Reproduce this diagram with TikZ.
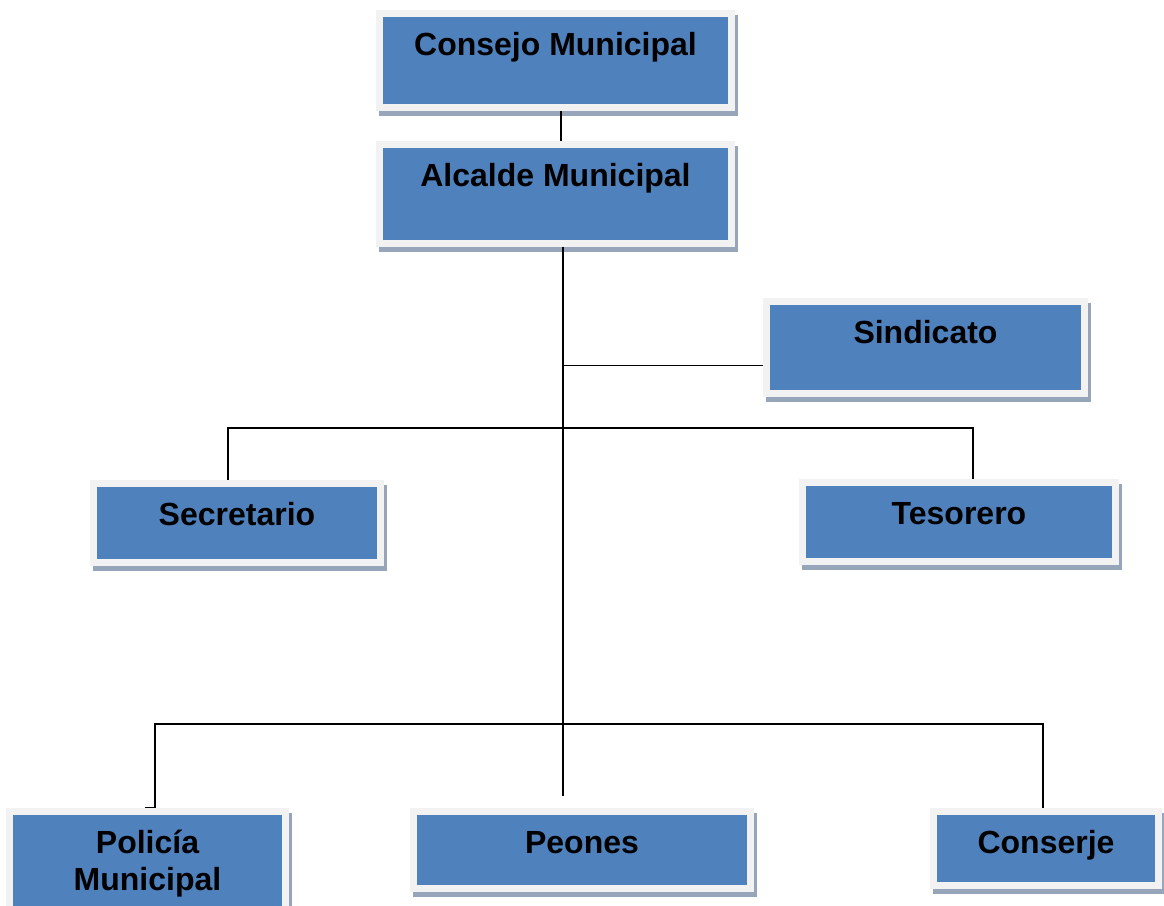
\documentclass[tikz,border=0pt]{standalone}
\usepackage{fontspec}
\setmainfont{Liberation Sans}
\usepackage{tikz}
\usetikzlibrary{shadows}

\definecolor{cajaazul}{HTML}{4F81BD}
\definecolor{cajamarco}{HTML}{F2F2F2}
\definecolor{cajasombra}{HTML}{97A5BA}

\tikzset{
    cargo/.style={anchor=north, fill=cajaazul, draw=cajamarco, line width=7pt, inner sep=0pt,
        text height=42pt, align=center, font=\fontsize{32}{37}\selectfont\bfseries,
        drop shadow={shadow xshift=3pt, shadow yshift=-5pt, fill=cajasombra, draw=cajasombra, line width=7pt, opacity=1}},
    enlace/.style={line width=1.8pt, black}
}

\begin{document}
\begin{tikzpicture}[x=1pt, y=-1pt]
    \useasboundingbox (0, 0) rectangle (1164, 905); % page size, y grows downwards
    \node[cargo, minimum width=352pt, text depth=52pt] (consejo) at (555.5, 9.5) {Consejo Municipal};
    \node[cargo, minimum width=352pt, text depth=57pt] (alcalde) at (555.5, 140.5) {Alcalde Municipal};
    \node[cargo, minimum width=318pt, text depth=50pt] (sindicato) at (925.5, 297.5) {Sindicato};
    \node[cargo, minimum width=287pt, text depth=37pt] (secretario) at (237, 479.5) {Secretario};
    \node[cargo, minimum width=313pt, text depth=37pt] (tesorero) at (959, 478.5) {Tesorero};
    \node[cargo, minimum width=276pt, text width=270pt, text depth=68pt] (policia) at (147.5, 807.5) {Policía\\Municipal};
    \node[cargo, minimum width=337pt, text depth=35pt] (peones) at (582, 807.5) {Peones};
    \node[cargo, minimum width=225pt, text depth=32pt] (conserje) at (1046, 807.5) {Conserje};

    \coordinate (tronco) at (563, 796); % lower end of the main line
    \coordinate (sind) at ([yshift=-18.5pt]sindicato.west);

    \draw[enlace] ([xshift=5.5pt]consejo.south) -- ([xshift=5.5pt]alcalde.north);
    \draw[enlace] ([xshift=7.5pt]alcalde.south) -- (tronco); % main line
    \draw[enlace] (sind) -- (sind -| tronco);
    \draw[enlace] ([xshift=-9pt]secretario.north) -- ++(0, -51.5) -| ([xshift=14pt]tesorero.north);
    \draw[enlace] ([xshift=-2.5pt]policia.north) -- ++(10, 0) -- ++(0, -83.5) -| ([xshift=-3pt]conserje.north);
\end{tikzpicture}
\end{document}
